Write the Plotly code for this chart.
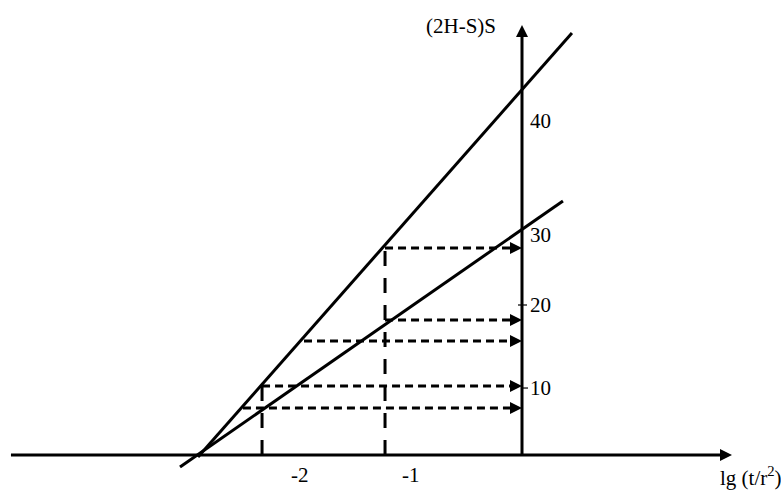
import plotly.graph_objects as go

# Straight-line graph of (2H-S)S against lg(t/r^2), two lines, read-off projections
steep_x = [-2.919, 0.45]
steep_y = [-0.27, 56.27]
shallow_x = [-3.081, 0.369]
shallow_y = [-1.6, 33.87]

# vertical dashed guides (lg t/r^2 value, height reached on the steep line)
guide_x = [-2.342, -1.234]
guide_top = [9.2, 27.7]

# horizontal dashed projections onto the (2H-S)S axis: start x, level
proj_start = [-2.342, -2.514, -1.234, -1.234, -1.964]
proj_level = [9.2, 6.27, 27.6, 18.0, 15.2]

# axis tick labels
x_tick_vals = [-2, -1]
x_tick_text = ["-2", "-1"]
y_tick_pos = [8.93, 20.0, 29.33, 44.53]
y_tick_text = ["10", "20", "30", "40"]

# axis extents
x_axis_start, x_axis_end = -4.604, 1.892
y_axis_top = 57.33

# scale: 111 px per x unit, 7.5 px per y unit
PX_X = 111.0
PX_Y = 7.5

BLACK = "#000000"
FONT = dict(family="Liberation Serif, Times New Roman, serif", size=21, color=BLACK)

fig = go.Figure()

def seg(xs, ys, width=3, dash="solid"):
    fig.add_trace(go.Scatter(
        x=xs, y=ys, mode="lines",
        line=dict(color=BLACK, width=width, dash=dash),
        hoverinfo="skip", showlegend=False,
    ))

# axes (stop short of the tips so the arrowheads finish them)
seg([x_axis_start, x_axis_end - 6 / PX_X], [0, 0])
seg([0, 0], [0, y_axis_top - 6 / PX_Y])

# the two straight lines
seg(steep_x, steep_y)
seg(shallow_x, shallow_y)

# vertical dashed guides
for gx, gt in zip(guide_x, guide_top):
    seg([gx, gx], [0, gt], width=3, dash="15px,12px")

# horizontal dashed projections
for sx, lv in zip(proj_start, proj_level):
    seg([sx, -6 / PX_X], [lv, lv], width=3, dash="8px,5px")

annotations = []

def arrow_head(x, y, ax, ay):
    annotations.append(dict(
        x=x, y=y, xref="x", yref="y", ax=ax, ay=ay,
        showarrow=True, arrowhead=2, arrowsize=1.2, arrowwidth=2,
        arrowcolor=BLACK, standoff=0, text="",
    ))

arrow_head(x_axis_end, 0, -14, 0)
arrow_head(0, y_axis_top, 0, 14)
for lv in proj_level:
    arrow_head(0, lv, -13, 0)

# small tick marks at 10 and 20
for pos, w in zip(y_tick_pos[:2], [(0.0, 0.054), (-0.036, 0.045)]):
    seg([w[0], w[1]], [pos, pos], width=1.2)

for pos, txt in zip(y_tick_pos, y_tick_text):
    annotations.append(dict(
        x=0.05, y=pos, xref="x", yref="y", text=txt, showarrow=False,
        xanchor="left", yanchor="middle", font=FONT,
    ))

for val, txt in zip(x_tick_vals, x_tick_text):
    annotations.append(dict(
        x=val, y=-2.67, xref="x", yref="y", text=txt, showarrow=False,
        xanchor="center", yanchor="middle", font=FONT,
    ))

annotations.append(dict(
    x=-0.55, y=57.2, xref="x", yref="y", text="(2H-S)S", showarrow=False,
    xanchor="center", yanchor="middle", font=FONT,
))
annotations.append(dict(
    x=1.766, y=-2.93, xref="x", yref="y", text="lg (t/r<sup>2</sup>)",
    showarrow=False, xanchor="left", yanchor="middle", font=FONT,
))

fig.update_layout(
    width=781, height=491,
    margin=dict(l=0, r=0, t=0, b=0),
    paper_bgcolor="white", plot_bgcolor="white",
    xaxis=dict(range=[-522 / PX_X, 259 / PX_X], visible=False, fixedrange=True),
    yaxis=dict(range=[-36 / PX_Y, 455 / PX_Y], visible=False, fixedrange=True),
    annotations=annotations,
    showlegend=False,
)

fig.write_html("out.html")
